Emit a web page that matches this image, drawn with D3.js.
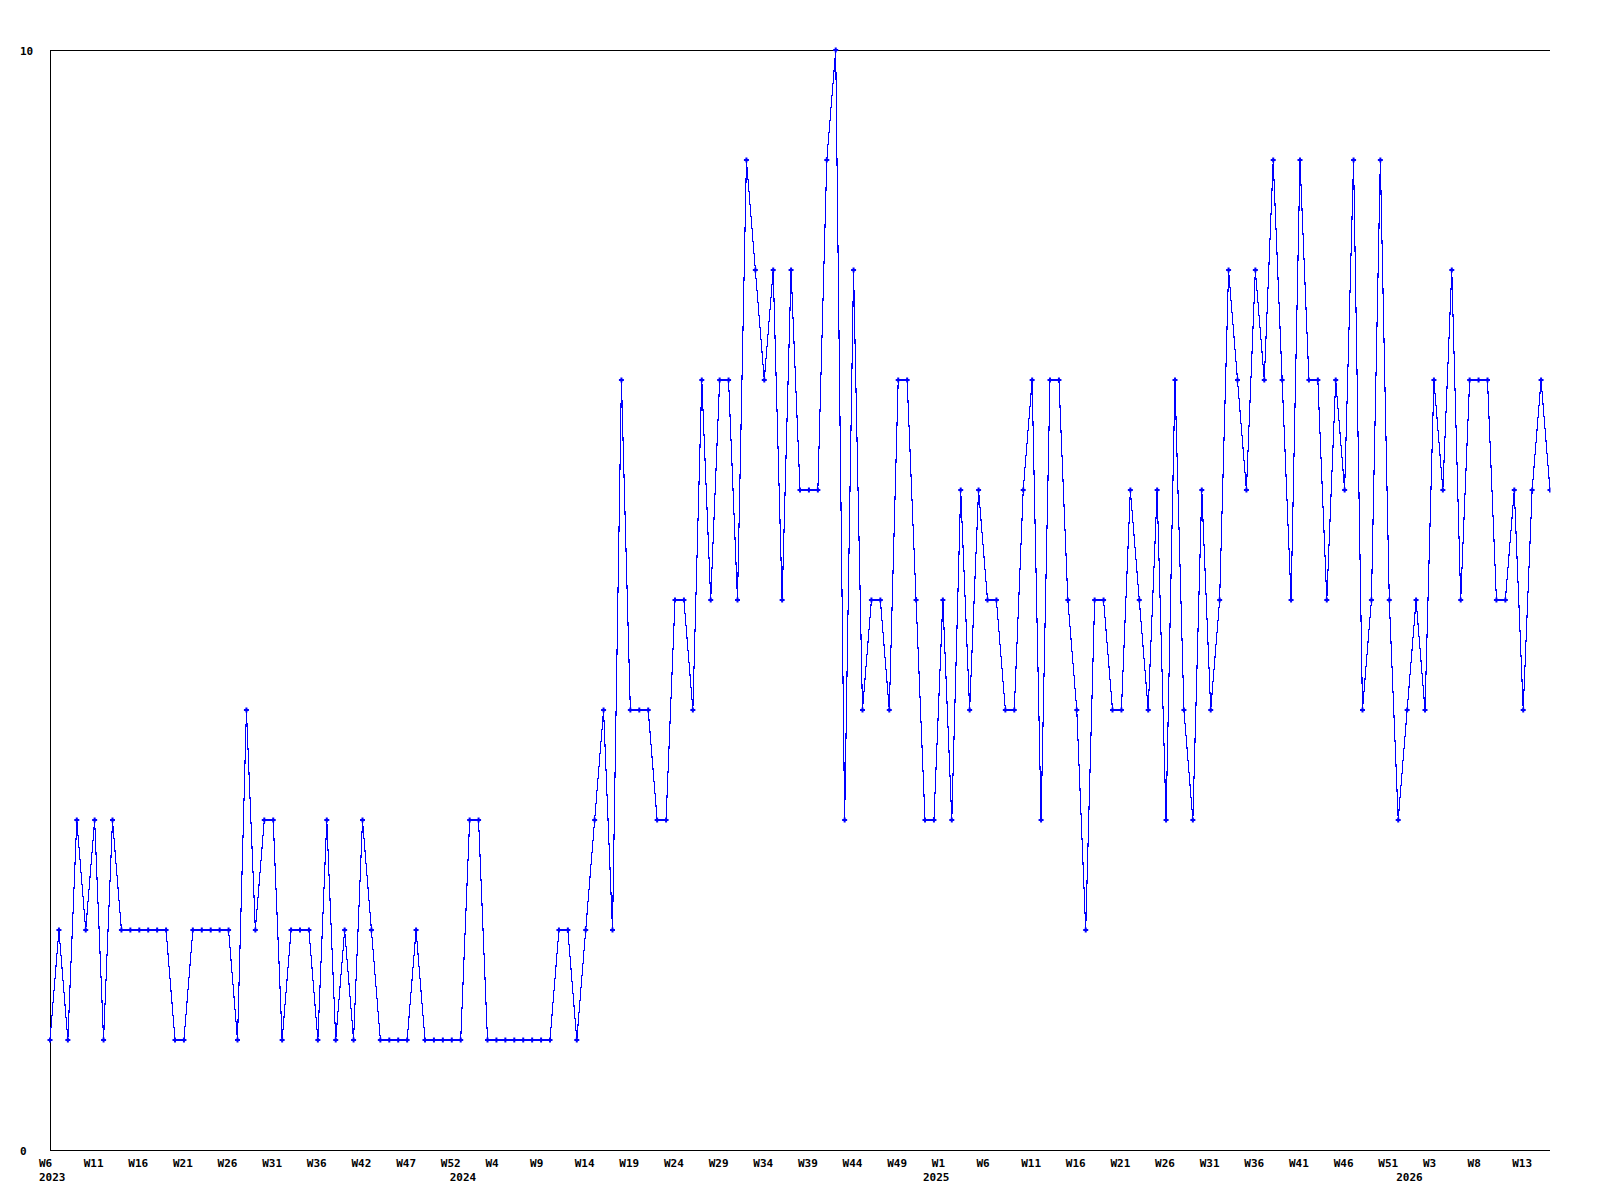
<!DOCTYPE html>
<html>
<head>
<meta charset="utf-8">
<script src="https://cdn.jsdelivr.net/npm/d3@7"></script>
<style>
  html, body { margin: 0; padding: 0; background: #fff; }
  svg text { font-family: "DejaVu Sans Mono", "Liberation Mono", monospace; font-weight: bold; font-size: 11px; fill: #000; }
</style>
</head>
<body>
<svg id="chart" width="1600" height="1200"></svg>
<script>
// Weekly values, 2023 W6 onward (one value per week)
const values = [
  1,2,1,3,2,3,1,3,2,2, 2,2,2,2,1,1,2,2,2,2,
  2,1,4,2,3,3,1,2,2,2, 1,3,1,2,1,3,2,1,1,1,
  1,2,1,1,1,1,1,3,3,1, 1,1,1,1,1,1,1,2,2,1,
  2,3,4,2,7,4,4,4,3,3, 5,5,4,7,5,7,7,5,9,8,
  7,8,5,8,6,6,6,9,10,3, 8,4,5,5,4,7,7,5,3,3,
  5,3,6,4,6,5,5,4,4,6, 7,3,7,7,5,4,2,5,5,4,
  4,6,5,4,6,3,7,4,3,6, 4,5,8,7,6,8,7,9,7,5,
  9,7,7,5,7,6,9,4,5,9, 5,3,4,5,4,7,6,8,5,7,
  7,7,5,5,6,4,6,7,6
];
// Week tick labels (every 5th point)
const weekTickIdx = d3.range(0, 166, 5);
const weekLabels = ["W6","W11","W16","W21","W26","W31","W36","W42","W47","W52",
                    "W4","W9","W14","W19","W24","W29","W34","W39","W44","W49",
                    "W1","W6","W11","W16","W21","W26","W31","W36","W41","W46",
                    "W51","W3","W8","W13"];
// Year labels at the first point of each year
const yearLabels = ["2023","2024","2025","2026"];
const yearStartIdx = [0, 46, 99, 152];
// Y tick labels
const yTicks = [0, 10];

(function () {
const svg = d3.select("#chart");
const mLeft = 50, mRight = 1550, mTop = 50, mBottom = 1150;

const x = d3.scaleLinear().domain([0, values.length - 1]).range([mLeft, mRight]);
const y = d3.scaleLinear().domain([0, 10]).range([mBottom, mTop]);

// Frame: left, bottom, top lines
const frame = svg.append("g").attr("stroke", "#000").attr("stroke-width", 1).attr("shape-rendering", "crispEdges");
frame.append("line").attr("x1", x.range()[0] + 0.5).attr("x2", x.range()[0] + 0.5).attr("y1", y(10)).attr("y2", y(0));
frame.append("line").attr("x1", x.range()[0]).attr("x2", x.range()[1]).attr("y1", y(0) + 0.5).attr("y2", y(0) + 0.5);
frame.append("line").attr("x1", x.range()[0]).attr("x2", x.range()[1]).attr("y1", y(10) + 0.5).attr("y2", y(10) + 0.5);

// Y labels
svg.append("g").selectAll("text").data(yTicks).join("text")
  .attr("x", 20).attr("y", d => y(d) + 4.5).text(d => d);

// X week labels
svg.append("g").selectAll("text").data(weekTickIdx).join("text")
  .attr("x", d => x(d) - 11).attr("y", y(0) + 16.5)
  .text((d, i) => weekLabels[i]);

// Year labels
svg.append("g").selectAll("text").data(yearStartIdx).join("text")
  .attr("x", d => x(d) - 11).attr("y", y(0) + 31)
  .text((d, i) => yearLabels[i]);

// Clip on the right edge of the plot
svg.append("defs").append("clipPath").attr("id", "clipR")
  .append("rect").attr("x", 0).attr("y", 0).attr("width", mRight + 0.5).attr("height", 1200);

const plot = svg.append("g").attr("clip-path", "url(#clipR)");

const line = d3.line().x((d, i) => x(i)).y(d => y(d));
plot.append("path").datum(values)
  .attr("d", line)
  .attr("fill", "none")
  .attr("stroke", "#0000ff")
  .attr("stroke-width", 1.1)
  .attr("shape-rendering", "crispEdges");

const marker = "M-2.5,-1H2.5V1H-2.5Z M-1,-2.5H1V2.5H-1Z";
plot.append("g").selectAll("path").data(values).join("path")
  .attr("d", marker)
  .attr("transform", (d, i) => `translate(${x(i)},${y(d)})`)
  .attr("fill", "#0000ff");
})();
</script>
</body>
</html>
